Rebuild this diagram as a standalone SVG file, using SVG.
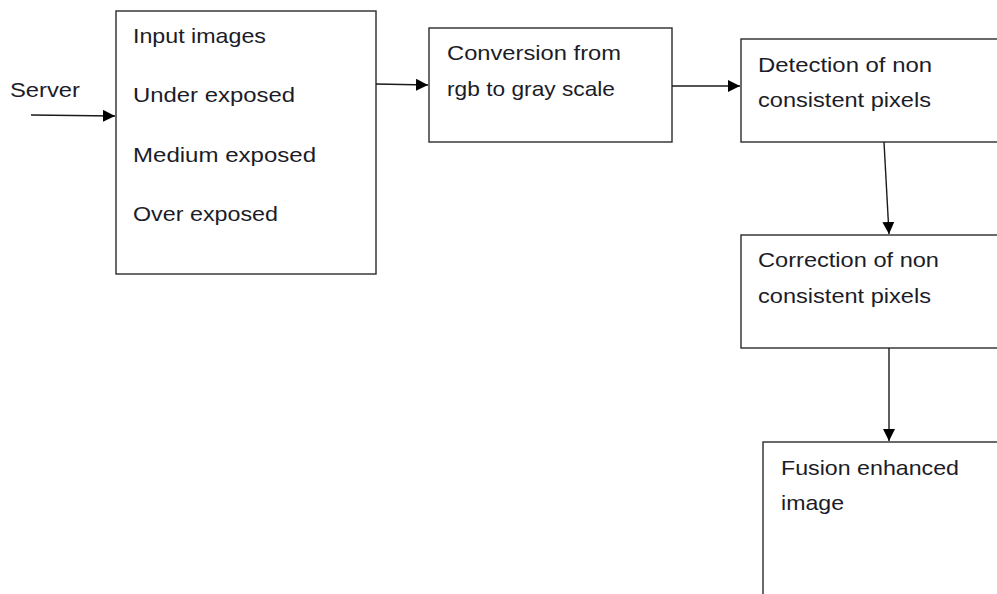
<svg xmlns="http://www.w3.org/2000/svg" width="997" height="594" viewBox="0 0 997 594">
<style>
.box{fill:#fff;stroke:#2b2b2b;stroke-width:1.4}
.t{font-family:"Liberation Sans",Arial,sans-serif;font-size:21px;fill:#1c1c28}
.c{stroke:#1a1a1a;stroke-width:1.4;fill:none;marker-end:url(#ah)}
</style>
<defs>
<marker id="ah" markerUnits="userSpaceOnUse" markerWidth="14" markerHeight="12" refX="12" refY="6" orient="auto">
<path d="M0,0 L12,6 L0,12 z" fill="#000"/>
</marker>
</defs>
<rect width="997" height="594" fill="#fff"/>
<g id="server"><text class="t" x="10" y="97" textLength="70" lengthAdjust="spacingAndGlyphs">Server</text></g>
<g id="input">
<rect class="box" x="116" y="11" width="260" height="263"/>
<text class="t" x="133" y="43" textLength="133" lengthAdjust="spacingAndGlyphs">Input images</text>
<text class="t" x="133" y="102" textLength="162" lengthAdjust="spacingAndGlyphs">Under exposed</text>
<text class="t" x="133" y="162" textLength="183" lengthAdjust="spacingAndGlyphs">Medium exposed</text>
<text class="t" x="133" y="221" textLength="145" lengthAdjust="spacingAndGlyphs">Over exposed</text>
</g>
<g id="conversion">
<rect class="box" x="429" y="28" width="243" height="114"/>
<text class="t" x="447" y="60" textLength="174" lengthAdjust="spacingAndGlyphs">Conversion from</text>
<text class="t" x="447" y="96" textLength="168" lengthAdjust="spacingAndGlyphs">rgb to gray scale</text>
</g>
<g id="detection">
<rect class="box" x="741" y="39" width="270" height="103"/>
<text class="t" x="758" y="72" textLength="174" lengthAdjust="spacingAndGlyphs">Detection of non</text>
<text class="t" x="758" y="107" textLength="173" lengthAdjust="spacingAndGlyphs">consistent pixels</text>
</g>
<g id="correction">
<rect class="box" x="741" y="235" width="270" height="113"/>
<text class="t" x="758" y="267" textLength="181" lengthAdjust="spacingAndGlyphs">Correction of non</text>
<text class="t" x="758" y="303" textLength="173" lengthAdjust="spacingAndGlyphs">consistent pixels</text>
</g>
<g id="fusion">
<rect class="box" x="763" y="442" width="260" height="170"/>
<text class="t" x="781" y="475" textLength="178" lengthAdjust="spacingAndGlyphs">Fusion enhanced</text>
<text class="t" x="781" y="510" textLength="63" lengthAdjust="spacingAndGlyphs">image</text>
</g>
<g id="connectors">
<line class="c" x1="31" y1="115" x2="115" y2="116"/>
<line class="c" x1="376" y1="84" x2="428" y2="85"/>
<line class="c" x1="672" y1="86" x2="740" y2="86"/>
<line class="c" x1="884" y1="142" x2="889" y2="234"/>
<line class="c" x1="889" y1="348" x2="889" y2="441"/>
</g>
</svg>
